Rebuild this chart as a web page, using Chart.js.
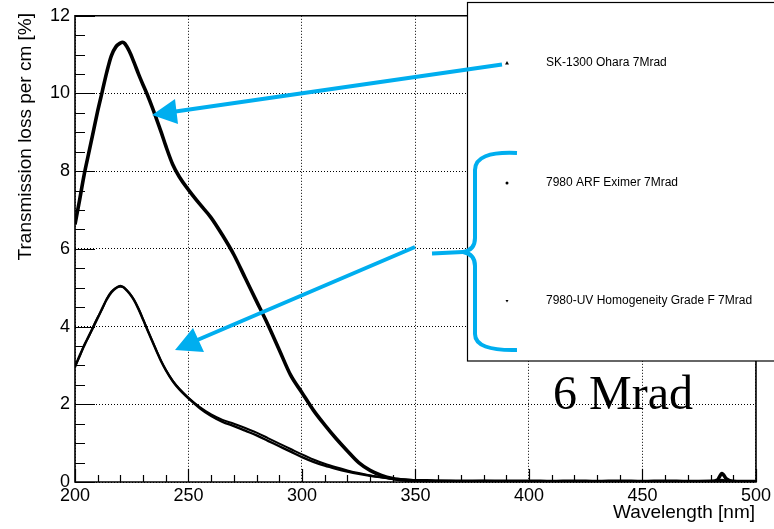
<!DOCTYPE html>
<html>
<head>
<meta charset="utf-8">
<script src="https://cdn.jsdelivr.net/npm/chart.js@4.4.1/dist/chart.umd.min.js"></script>
<style>
  html, body { margin: 0; padding: 0; background: #fff; }
  #wrap { width: 774px; height: 529px; }
</style>
</head>
<body>
<div id="wrap"><canvas id="c" width="774" height="529"></canvas></div>
<script>
// wavelength grid (nm) shared by the three measurements
const wavelength = [200, 202, 204, 206, 208, 210, 212, 214, 216, 218, 220,
  221, 222, 224, 226, 228, 230, 232, 234, 236, 238, 240, 243, 246,
  250, 255, 260, 265, 270, 275, 280, 285, 290, 295, 300, 305, 310, 315, 320,
  325, 330, 335, 340, 345, 350, 355, 360,
  370, 380, 390, 400, 410, 420, 430, 440, 450, 460, 470, 480,
  483, 485, 487, 490, 500]

// transmission loss per cm [%]
const sk1300 = [6.63, 7.25, 7.9, 8.45, 9.0, 9.55, 10.05, 10.55, 10.97, 11.2, 11.3,
  11.32, 11.28, 11.08, 10.8, 10.5, 10.22, 9.95, 9.65, 9.33, 9.0, 8.65, 8.18, 7.85,
  7.52, 7.15, 6.8, 6.35, 5.85, 5.25, 4.65, 4.05, 3.4, 2.75, 2.3, 1.85, 1.47, 1.12, 0.8,
  0.5, 0.3, 0.17, 0.09, 0.05, 0.03, 0.03, 0.02,
  0.02, 0.02, 0.015, 0.02, 0.01, 0.02, 0.01, 0.02, 0.01, 0.02, 0.01, 0.02,
  0.05, 0.22, 0.08, 0.02, 0.01]

const arfEximer = [2.96, 3.25, 3.5, 3.75, 3.98, 4.22, 4.47, 4.7, 4.88, 4.99, 5.03,
  5.02, 4.98, 4.85, 4.68, 4.45, 4.18, 3.9, 3.63, 3.36, 3.1, 2.88, 2.6, 2.38,
  2.15, 1.9, 1.7, 1.55, 1.44, 1.32, 1.2, 1.06, 0.92, 0.78, 0.64, 0.52, 0.42, 0.34, 0.27,
  0.21, 0.16, 0.12, 0.08, 0.06, 0.04, 0.03, 0.03,
  0.02, 0.02, 0.02, 0.01, 0.02, 0.01, 0.02, 0.01, 0.02, 0.01, 0.02, 0.01,
  0.02, 0.03, 0.02, 0.02, 0.01]

const uvGradeF = [2.99, 3.22, 3.52, 3.73, 4.0, 4.24, 4.45, 4.72, 4.9, 5.0, 5.05,
  5.03, 4.99, 4.86, 4.69, 4.46, 4.19, 3.91, 3.64, 3.37, 3.11, 2.89, 2.61, 2.4,
  2.17, 1.93, 1.74, 1.6, 1.5, 1.39, 1.27, 1.13, 0.99, 0.85, 0.71, 0.58, 0.47, 0.38, 0.3,
  0.23, 0.17, 0.12, 0.08, 0.06, 0.04, 0.03, 0.03,
  0.02, 0.03, 0.02, 0.02, 0.01, 0.02, 0.02, 0.01, 0.02, 0.02, 0.01, 0.02,
  0.03, 0.06, 0.03, 0.02, 0.02]

const seriesLabels = ['SK-1300 Ohara 7Mrad', '7980 ARF Eximer 7Mrad', '7980-UV Homogeneity Grade F 7Mrad']
const xTicks = [200, 250, 300, 350, 400, 450, 500]
const yTicks = [0, 2, 4, 6, 8, 10, 12]
const xTitle = 'Wavelength [nm]'
const yTitle = 'Transmission loss per cm [%]'
const noteText = '6 Mrad'

const cyan = '#00AEEF'
const sans = '"Liberation Sans", Arial, Helvetica, sans-serif'

const toPoints = (vals) => wavelength.map((w, i) => ({ x: w, y: vals[i] }))

// ROOT-like frame, inner ticks, titles, legend and the hand-drawn arrows
const rootDecor = {
  id: 'rootDecor',
  afterDraw(chart) {
    const ctx = chart.ctx
    const xs = chart.scales.x
    const ys = chart.scales.y
    const L = xs.left, R = xs.right, T = ys.top, B = ys.bottom
    const legL = 467, legT = 2.5, legB = 361

    ctx.save()
    ctx.strokeStyle = '#000'
    ctx.lineWidth = 1.2
    ctx.beginPath()
    for (let v = xTicks[0]; v <= xTicks[xTicks.length - 1]; v += 10) {
      const px = Math.round(xs.getPixelForValue(v)) + 0.5
      const len = v % 50 === 0 ? 13 : 7
      ctx.moveTo(px, B); ctx.lineTo(px, B - len)
    }
    for (let k = 0; k <= 24; k++) {
      const v = k * 0.5
      const py = Math.round(ys.getPixelForValue(v)) + 0.5
      const len = k % 4 === 0 ? 20 : 10
      ctx.moveTo(L, py); ctx.lineTo(L + len, py)
    }
    ctx.stroke()

    // frame
    ctx.lineWidth = 1.6
    ctx.beginPath()
    ctx.moveTo(legL, T); ctx.lineTo(L, T); ctx.lineTo(L, B); ctx.lineTo(R, B); ctx.lineTo(R, legB)
    ctx.stroke()

    // axis titles
    ctx.fillStyle = '#000'
    ctx.font = '19px ' + sans
    ctx.textAlign = 'right'
    ctx.textBaseline = 'alphabetic'
    ctx.fillText(xTitle, R - 1, 518)
    ctx.save()
    ctx.translate(31, 13)
    ctx.rotate(-Math.PI / 2)
    ctx.fillText(yTitle, 0, 0)
    ctx.restore()

    // legend box
    ctx.fillStyle = '#fff'
    ctx.fillRect(legL, legT, 330, legB - legT)
    ctx.lineWidth = 1.2
    ctx.strokeStyle = '#000'
    ctx.strokeRect(legL + 0.5, legT, 330, legB - legT)
    const rows = [63, 183, 301]
    ctx.fillStyle = '#000'
    ctx.font = '12px ' + sans
    ctx.textAlign = 'left'
    ctx.textBaseline = 'middle'
    chart.data.datasets.forEach((ds, i) => {
      const y = rows[i]
      ctx.fillText(ds.label, 546, y)
      ctx.beginPath()
      if (i === 0) {
        ctx.moveTo(507, y - 2); ctx.lineTo(509, y + 1.5); ctx.lineTo(505, y + 1.5)
      } else if (i === 1) {
        ctx.arc(507, y, 1.5, 0, Math.PI * 2)
      } else {
        ctx.moveTo(505.5, y - 1); ctx.lineTo(508.5, y - 1); ctx.lineTo(507, y + 1.5)
      }
      ctx.closePath()
      ctx.fill()
    })

    // annotation note
    ctx.font = '48px "Liberation Serif", "Times New Roman", serif'
    ctx.textBaseline = 'alphabetic'
    ctx.fillText(noteText, 553, 409)

    // cyan arrows
    ctx.strokeStyle = cyan
    ctx.fillStyle = cyan
    ctx.lineWidth = 4
    ctx.lineCap = 'butt'
    ctx.beginPath()
    ctx.moveTo(502, 64.5); ctx.lineTo(172, 112)
    ctx.moveTo(415, 247); ctx.lineTo(195, 341)
    ctx.stroke()
    ctx.beginPath()
    ctx.moveTo(152, 115); ctx.lineTo(175, 99); ctx.lineTo(178, 124); ctx.closePath()
    ctx.moveTo(175, 350); ctx.lineTo(193, 328); ctx.lineTo(204, 352); ctx.closePath()
    ctx.fill()

    // brace
    ctx.lineWidth = 4
    ctx.lineJoin = 'round'
    ctx.beginPath()
    ctx.moveTo(517, 153)
    ctx.quadraticCurveTo(475, 151, 475, 170)
    ctx.lineTo(475, 238)
    ctx.quadraticCurveTo(475, 250, 463, 252)
    ctx.quadraticCurveTo(475, 254, 475, 266)
    ctx.lineTo(475, 334)
    ctx.quadraticCurveTo(475, 351, 517, 350)
    ctx.stroke()
    ctx.beginPath()
    ctx.moveTo(432, 253.5); ctx.lineTo(463, 252)
    ctx.stroke()
    ctx.restore()
  }
}

const axisFont = { family: sans, size: 18 }

new Chart(document.getElementById('c'), {
  type: 'scatter',
  data: {
    datasets: [
      { label: seriesLabels[0], data: toPoints(sk1300), borderColor: '#000', borderWidth: 3.6 },
      { label: seriesLabels[1], data: toPoints(arfEximer), borderColor: '#000', borderWidth: 2.4 },
      { label: seriesLabels[2], data: toPoints(uvGradeF), borderColor: '#000', borderWidth: 2 }
    ].map(ds => ({ ...ds, showLine: true, pointRadius: 0, cubicInterpolationMode: 'monotone' }))
  },
  options: {
    responsive: false,
    animation: false,
    devicePixelRatio: 1,
    layout: { padding: { left: 0, right: 17, top: 14, bottom: 0 } },
    plugins: {
      legend: { display: false },
      tooltip: { enabled: false }
    },
    scales: {
      x: {
        type: 'linear',
        min: xTicks[0],
        max: xTicks[xTicks.length - 1],
        afterBuildTicks: (s) => { s.ticks = xTicks.map(v => ({ value: v })) },
        afterFit: (s) => { s.height = 47 },
        ticks: { font: axisFont, color: '#000', maxRotation: 0, autoSkip: false, padding: 3 },
        grid: { color: '#000', lineWidth: 1, drawTicks: false },
        border: { display: false, dash: [1, 2] }
      },
      y: {
        min: yTicks[0],
        max: yTicks[yTicks.length - 1],
        afterBuildTicks: (s) => { s.ticks = yTicks.map(v => ({ value: v })) },
        afterFit: (s) => { s.width = 75 },
        ticks: { font: axisFont, color: '#000', padding: 5 },
        grid: { color: '#000', lineWidth: 1, drawTicks: false },
        border: { display: false, dash: [1, 2] }
      }
    }
  },
  plugins: [rootDecor]
})
</script>
</body>
</html>
